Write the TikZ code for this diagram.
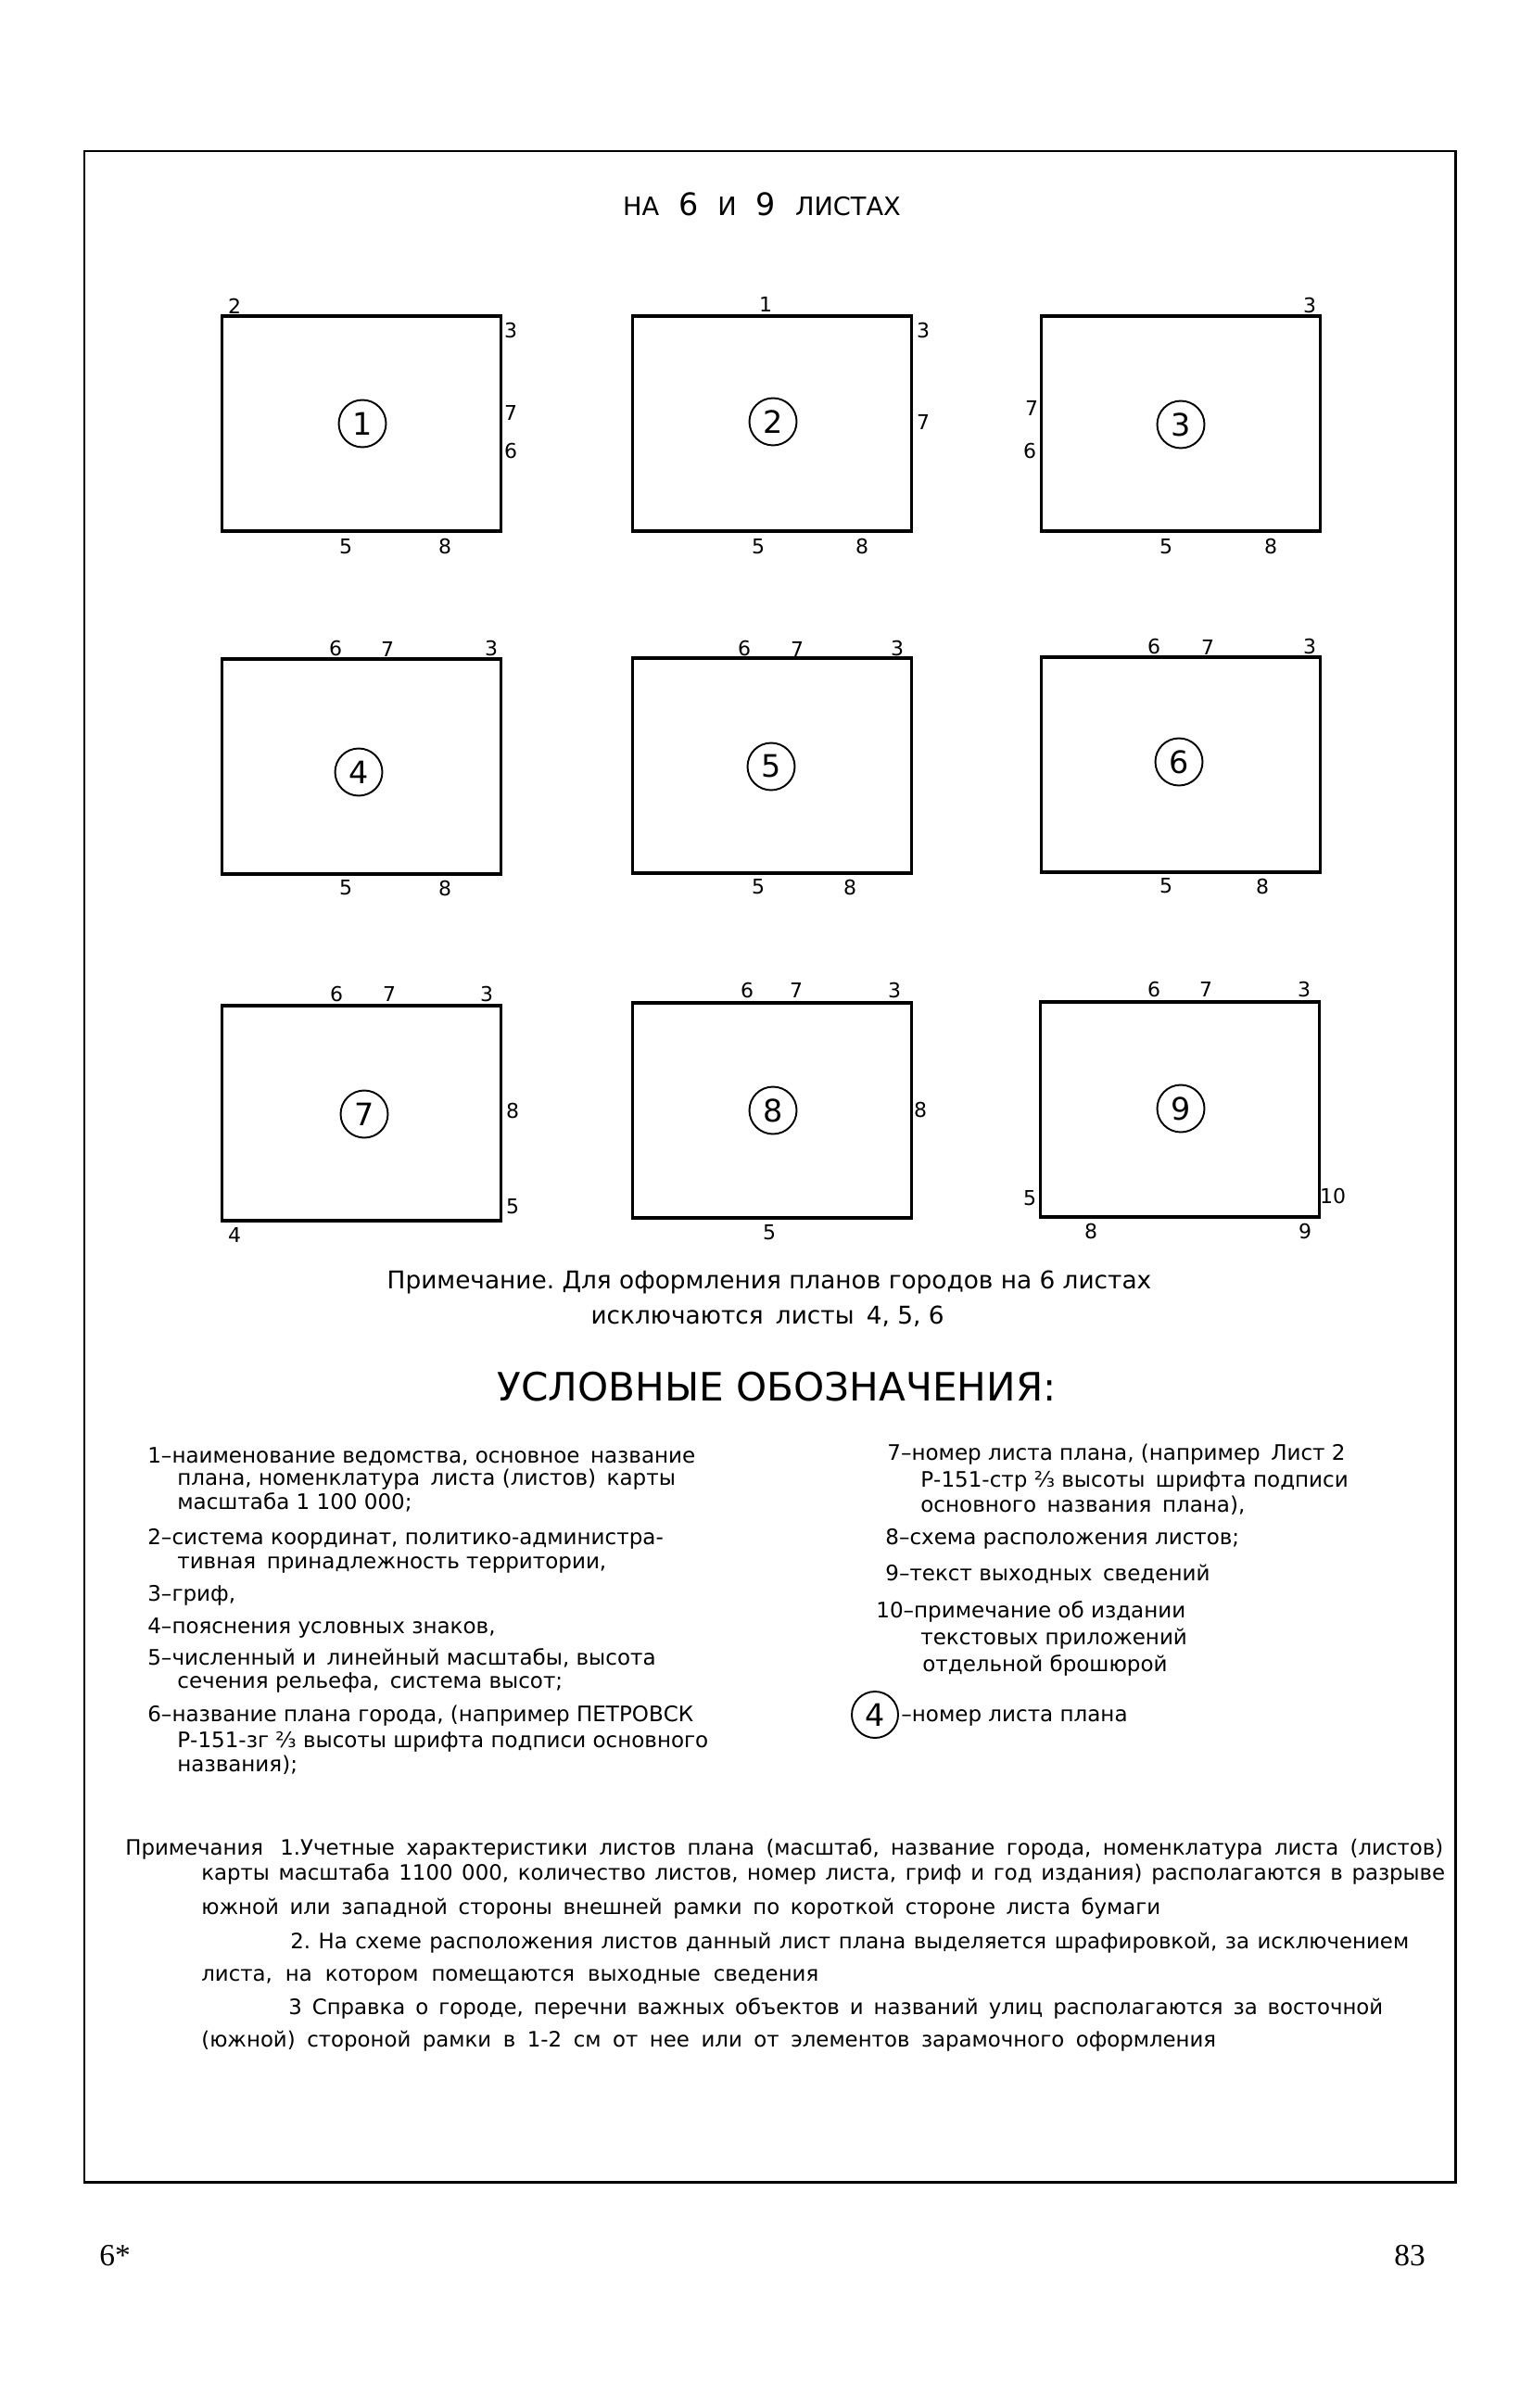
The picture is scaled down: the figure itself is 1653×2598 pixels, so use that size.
\documentclass[tikz,border=0pt]{standalone}
\usepackage{fontspec}
\setmainfont{DejaVu Sans}
\newfontfamily\foliofont{Liberation Serif}
\usetikzlibrary{positioning}
\tikzset{
  pageframe/.style={draw,line width=1.7pt},
  sheet/.style={draw,line width=1.2pt,minimum width=6.02cm,minimum height=4.6cm,inner sep=0pt},
  rim/.style={line width=2.2pt},
  num/.style={circle,draw,line width=1.1pt,minimum size=1.02cm,inner sep=0pt,font=\fontsize{19}{19}\selectfont},
  lbl/.style={inner sep=0pt,font=\fontsize{12.5}{12.5}\selectfont},
  headline/.style={anchor=base,inner sep=0pt,font=\fontsize{15.5}{15.5}\selectfont},
  remark/.style={anchor=base,inner sep=0pt,font=\fontsize{15}{15}\selectfont},
  legtitle/.style={anchor=base,inner sep=0pt,font=\fontsize{24}{24}\selectfont},
  legline/.style={anchor=base west,inner sep=0pt,font=\fontsize{13.1}{13.1}\selectfont},
  noteline/.style={anchor=base west,inner sep=0pt,font=\fontsize{13}{13}\selectfont},
  folio/.style={anchor=base,inner sep=0pt,font=\foliofont\fontsize{19}{19}\selectfont},
}
\newcommand{\bigdig}[1]{{\fontsize{19}{19}\selectfont #1}}
\newcommand{\tgap}{\hspace{0.42cm}}
\newcommand{\spread}[2]{\makebox[#1][s]{#2}}
\frenchspacing

\begin{document}
\begin{tikzpicture}[x=0.02cm,y=-0.02cm]
  \useasboundingbox (0,0) rectangle (1653,2598);
  % ---- page frame ----
  \draw[pageframe] (91,163) rectangle (1570,2354);
  \node[headline] (head) at (822,233) {НА\tgap\bigdig{6}\tgap И\tgap\bigdig{9}\tgap ЛИСТАХ};
  % ---- row 1 ----
  \node[sheet] (s1) at (390,457) {};
  \node[sheet] (s2) at (833,457) {};
  \node[sheet] (s3) at (1274,457) {};
  \draw[rim] (s1.north west) -- (s1.north east) (s1.south west) -- (s1.south east);
  \draw[rim] (s2.north west) -- (s2.north east) (s2.south west) -- (s2.south east);
  \draw[rim] (s3.north west) -- (s3.north east) (s3.south west) -- (s3.south east);
  \node[num] (c1) at (391,457) {1};
  \node[num] (c2) at (834,455) {2};
  \node[num] (c3) at (1274,458) {3};
  \node[lbl] (s1n2) at (253,330) {2};
  \node[lbl] (s1n3) at (551,357) {3};
  \node[lbl] (s1n7) at (551,445) {7};
  \node[lbl] (s1n6) at (551,487) {6};
  \node[lbl] (s1n5) at (373,590) {5};
  \node[lbl] (s1n8) at (480,590) {8};
  \node[lbl] (s2n1) at (826,328) {1};
  \node[lbl] (s2n3) at (996,357) {3};
  \node[lbl] (s2n7) at (996,455) {7};
  \node[lbl] (s2n5) at (818,590) {5};
  \node[lbl] (s2n8) at (930,590) {8};
  \node[lbl] (s3n3) at (1413,330) {3};
  \node[lbl] (s3n7) at (1113,440) {7};
  \node[lbl] (s3n6) at (1111,487) {6};
  \node[lbl] (s3n5) at (1258,590) {5};
  \node[lbl] (s3n8) at (1371,590) {8};
  % ---- row 2 ----
  \node[sheet] (s4) at (390,827) {};
  \node[sheet] (s5) at (833,826) {};
  \node[sheet] (s6) at (1274,825) {};
  \draw[rim] (s4.north west) -- (s4.north east) (s4.south west) -- (s4.south east);
  \draw[rim] (s5.north west) -- (s5.north east) (s5.south west) -- (s5.south east);
  \draw[rim] (s6.north west) -- (s6.north east) (s6.south west) -- (s6.south east);
  \node[num] (c4) at (387,833) {4};
  \node[num] (c5) at (832,827) {5};
  \node[num] (c6) at (1272,822) {6};
  \node[lbl] (s4n6) at (362,700) {6};
  \node[lbl] (s4n7) at (418,700) {7};
  \node[lbl] (s4n3) at (530,700) {3};
  \node[lbl] (s4n5) at (373,958) {5};
  \node[lbl] (s4n8) at (480,958) {8};
  \node[lbl] (s5n6) at (803,700) {6};
  \node[lbl] (s5n7) at (860,700) {7};
  \node[lbl] (s5n3) at (968,700) {3};
  \node[lbl] (s5n5) at (818,957) {5};
  \node[lbl] (s5n8) at (917,957) {8};
  \node[lbl] (s6n6) at (1245,698) {6};
  \node[lbl] (s6n7) at (1303,698) {7};
  \node[lbl] (s6n3) at (1413,698) {3};
  \node[lbl] (s6n5) at (1258,956) {5};
  \node[lbl] (s6n8) at (1362,956) {8};
  % ---- row 3 ----
  \node[sheet] (s7) at (390,1201) {};
  \node[sheet] (s8) at (833,1198) {};
  \node[sheet] (s9) at (1273,1197) {};
  \draw[rim] (s7.north west) -- (s7.north east) (s7.south west) -- (s7.south east);
  \draw[rim] (s8.north west) -- (s8.north east) (s8.south west) -- (s8.south east);
  \draw[rim] (s9.north west) -- (s9.north east) (s9.south west) -- (s9.south east);
  \node[num] (c7) at (393,1202) {7};
  \node[num] (c8) at (834,1198) {8};
  \node[num] (c9) at (1274,1196) {9};
  \node[lbl] (s7n6) at (363,1072) {6};
  \node[lbl] (s7n7) at (420,1072) {7};
  \node[lbl] (s7n3) at (525,1072) {3};
  \node[lbl] (s7n8) at (553,1198) {8};
  \node[lbl] (s7n5) at (553,1302) {5};
  \node[lbl] (s7n4) at (253,1332) {4};
  \node[lbl] (s8n6) at (806,1068) {6};
  \node[lbl] (s8n7) at (859,1068) {7};
  \node[lbl] (s8n3) at (965,1068) {3};
  \node[lbl] (s8n8) at (993,1197) {8};
  \node[lbl] (s8n5) at (830,1330) {5};
  \node[lbl] (s9n6) at (1245,1067) {6};
  \node[lbl] (s9n7) at (1301,1067) {7};
  \node[lbl] (s9n3) at (1407,1067) {3};
  \node[lbl] (s9n5) at (1111,1293) {5};
  \node[lbl] (s9n10) at (1438,1290) {10};
  \node[lbl] (s9n8) at (1177,1328) {8};
  \node[lbl] (s9n9) at (1408,1328) {9};
  % ---- remark under the scheme ----
  \node[remark] (rem1) at (830,1390) {Примечание. Для оформления планов городов на 6 листах};
  \node[remark] (rem2) at (828,1428) {исключаются\enspace листы\enspace 4, 5, 6};
  % ---- legend ----
  \node[legtitle] (legend) at (838,1511) {УСЛОВНЫЕ ОБОЗНАЧЕНИЯ:};
  \node[legline] (k1a) at (159,1578) {1–наименование ведомства, основное\enspace название};
  \node[legline] (k1b) at (191,1602) {плана, номенклатура\enspace листа (листов)\enspace карты};
  \node[legline] (k1c) at (191,1628) {масштаба 1 100 000;};
  \node[legline] (k2a) at (159,1666) {2–система координат, политико-администра-};
  \node[legline] (k2b) at (191,1692) {тивная\enspace принадлежность территории,};
  \node[legline] (k3a) at (159,1727) {3–гриф,};
  \node[legline] (k4a) at (159,1762) {4–пояснения условных знаков,};
  \node[legline] (k5a) at (159,1796) {5–численный и\enspace линейный масштабы, высота};
  \node[legline] (k5b) at (191,1821) {сечения рельефа,\enspace система высот;};
  \node[legline] (k6a) at (159,1857) {6–название плана города, (например ПЕТРОВСК};
  \node[legline] (k6b) at (191,1885) {Р-151-зг ⅔ высоты шрифта подписи основного};
  \node[legline] (k6c) at (191,1911) {названия);};
  \node[legline] (k7a) at (957,1575) {7–номер листа плана, (например\enspace Лист 2};
  \node[legline] (k7b) at (993,1604) {Р-151-стр ⅔ высоты\enspace шрифта подписи};
  \node[legline] (k7c) at (993,1631) {основного\enspace названия\enspace плана),};
  \node[legline] (k8a) at (955,1666) {8–схема расположения листов;};
  \node[legline] (k9a) at (955,1705) {9–текст выходных\enspace сведений};
  \node[legline] (k10a) at (945,1745) {10–примечание об издании};
  \node[legline] (k10b) at (993,1774) {текстовых приложений};
  \node[legline] (k10c) at (995,1803) {отдельной брошюрой};
  \node[num,minimum size=1cm] (kc) at (944,1850) {4};
  \node[legline] (kca) at (972,1857) {–номер листа плана};
  % ---- notes ----
  \node[noteline] (n0) at (135,2001) {Примечания};
  \node[noteline] (n1) at (302,2001) {\spread{25.1cm}{1.Учетные характеристики листов плана (масштаб, название города, номенклатура листа (листов)}};
  \node[noteline] (n2) at (217,2028) {\spread{26.84cm}{карты масштаба 1100 000, количество листов, номер листа, гриф и год издания) располагаются в разрыве}};
  \node[noteline] (n3) at (217,2065) {\spread{20.7cm}{южной или западной стороны внешней рамки по короткой стороне листа бумаги}};
  \node[noteline] (n4) at (313,2102) {\spread{24.14cm}{2. На схеме расположения листов данный лист плана выделяется шрафировкой, за исключением}};
  \node[noteline] (n5) at (217,2137) {\spread{13.32cm}{листа, на котором помещаются выходные сведения}};
  \node[noteline] (n6) at (311,2173) {\spread{23.62cm}{3 Справка о городе, перечни важных объектов и названий улиц располагаются за восточной}};
  \node[noteline] (n7) at (217,2208) {\spread{21.9cm}{(южной) стороной рамки в 1-2 см от нее или от элементов зарамочного оформления}};
  % ---- page numbers ----
  \node[folio] (pgl) at (124,2444) {6*};
  \node[folio] (pgr) at (1521,2444) {83};
\end{tikzpicture}
\end{document}
